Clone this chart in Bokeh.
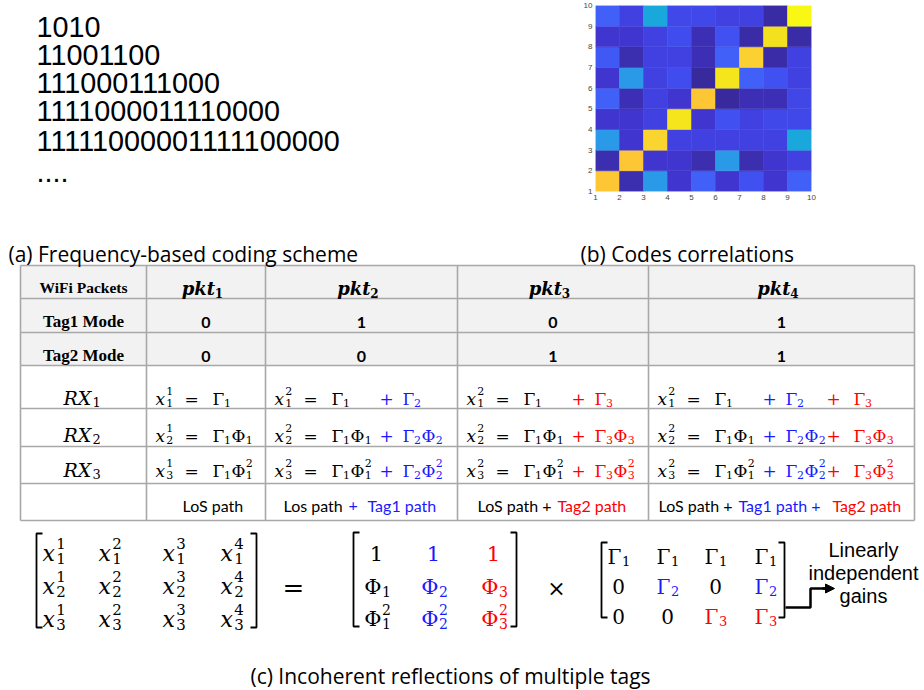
import numpy as np
import pandas as pd
from bokeh.plotting import figure
from bokeh.models import Range1d, ColumnDataSource, LinearColorMapper, FixedTicker, Arrow, NormalHead
from bokeh.layouts import column, row
from bokeh.transform import transform
from bokeh.core.properties import value
from bokeh.embed import file_html
from bokeh.resources import INLINE

# ---------------- data ----------------
CODES = ["1010", "11001100", "111000111000", "1111000011110000",
         "11111000001111100000", "...."]

# code correlation matrix (rows: y=1..2 bottom -> y=9..10 top ; cols: x=1..2 -> 9..10)
CORR = [
    [0.88, 0.06, 0.40, 0.10, 0.22, 0.10, 0.18, 0.10, 0.22],
    [0.06, 0.88, 0.10, 0.10, 0.06, 0.40, 0.06, 0.10, 0.13],
    [0.40, 0.10, 0.91, 0.13, 0.13, 0.13, 0.13, 0.13, 0.45],
    [0.10, 0.10, 0.13, 0.96, 0.10, 0.18, 0.13, 0.16, 0.16],
    [0.22, 0.07, 0.13, 0.10, 0.88, 0.03, 0.07, 0.07, 0.15],
    [0.10, 0.40, 0.13, 0.17, 0.03, 0.96, 0.22, 0.18, 0.13],
    [0.20, 0.06, 0.13, 0.13, 0.07, 0.22, 0.90, 0.05, 0.13],
    [0.10, 0.10, 0.13, 0.17, 0.07, 0.18, 0.05, 0.95, 0.05],
    [0.22, 0.13, 0.45, 0.16, 0.16, 0.13, 0.13, 0.04, 1.00],
]
HEAT_TICKS = [1, 2, 3, 4, 5, 6, 7, 8, 9, 10]

PKT_IDX = ["1", "2", "3", "4"]
TAG1_MODE = [0, 1, 0, 1]
TAG2_MODE = [0, 0, 1, 1]
X_SUP = ["1", "2", "2", "2"]          # superscripts as printed in the table
RX_IDX = ["1", "2", "3"]
PHI_POW = [None, None, "2"]
ROW_HEADERS = ["WiFi Packets", "Tag1 Mode", "Tag2 Mode"]
PATH_SEGMENTS = [
    [("LoS path", "k")],
    [("Los path", "k"), ("+", "b"), ("Tag1 path", "b")],
    [("LoS path +", "k"), ("Tag2 path", "r")],
    [("LoS path +", "k"), ("Tag1 path +", "b"), ("Tag2 path", "r")],
]
CAPTIONS = ["(a) Frequency-based coding scheme", "(b) Codes correlations",
            "(c) Incoherent reflections of multiple tags"]
GAIN_NOTE = ["Linearly", "independent", "gains"]

# ---------------- style / layout ----------------
BLACK, BLUE, RED = "#000000", "#1a1aff", "#ff0000"
CMAP = {"k": BLACK, "b": BLUE, "r": RED}
MATH = "DejaVu Serif"
CAP_FONT = "Open Sans"

LINE_BASE = [25, 57, 90, 122, 157, 193]
COL_EDGES = [20, 146, 265, 457, 648, 914]
ROW_EDGES = [265, 298, 332, 365, 408, 446, 483, 520]
COL_CENTERS = [(a + b) / 2 for a, b in zip(COL_EDGES[:-1], COL_EDGES[1:])]
PATH_X = [[36], [18, 83, 102], [20, 100], [10, 90, 184]]
EQ_BASE = [398, 435, 470]
TERM_SLOTS = [(114, 137), (178, 205)]

W = {"x": 0.60, "Γ": 0.64, "Φ": 0.82, "R": 0.77, "X": 0.73,
     "p": 0.71, "k": 0.66, "t": 0.44}


def wid(s, size):
    return sum(W.get(c, 0.636) for c in s) * size


class Texts:
    def __init__(self):
        self.rows = []

    def add(self, x, y, text, size, color=BLACK, font=MATH, style="normal", align="left"):
        self.rows.append(dict(x=x, y=y, text=text, size=f"{size}px", color=color,
                              font=font, style=style, align=align))

    def render(self, p):
        src = ColumnDataSource(pd.DataFrame(self.rows))
        p.text(x="x", y="y", text="text", source=src, text_font="font",
               text_font_size="size", text_color="color", text_font_style="style",
               text_align="align", text_baseline="alphabetic")


def sym(tb, x, y, base, size, color, sub=None, sup=None, style="normal"):
    tb.add(x, y, base, size, color, style=style)
    bx = x + wid(base, size) + 0.5
    ss = round(size * 0.66)
    n = 0
    if sub:
        tb.add(bx, y + size * 0.24, sub, ss, color)
        n = len(sub)
    if sup:
        tb.add(bx, y - size * 0.45, sup, ss, color)
        n = max(n, len(sup))
    return bx + n * 0.636 * ss


def sym_right(tb, xr, y, base, size, color, sub=None, sup=None):
    tb.add(xr, y, base, size, color, align="right")
    ss = round(size * 0.66)
    if sub:
        tb.add(xr + 0.5, y + size * 0.24, sub, ss, color)
    if sup:
        tb.add(xr + 0.5, y - size * 0.45, sup, ss, color)


def blank(p):
    p.outline_line_color = None
    p.min_border = 0
    p.background_fill_color = None
    return p


# ---------------- (a) codes ----------------
fig_text = blank(figure(width=580, height=215, x_range=Range1d(0, 580), y_range=Range1d(215, 0),
                        x_axis_type=None, y_axis_type=None, toolbar_location=None,
                        output_backend="svg"))
tb_a = Texts()
for i, c in enumerate(CODES):
    tb_a.add(36, LINE_BASE[i], c, 28.8, BLACK, font="Liberation Sans")
tb_a.render(fig_text)

# ---------------- (b) heatmap ----------------
anchors = [(0.0, "#36278f"), (0.05, "#3a2ca8"), (0.10, "#4035d0"), (0.13, "#4140e0"),
           (0.17, "#414cee"), (0.22, "#4060f8"), (0.30, "#3a7cf2"), (0.40, "#2a9ae8"),
           (0.45, "#1aa8dc"), (0.55, "#17bcbc"), (0.65, "#48c88c"), (0.75, "#a8c455"),
           (0.85, "#f0bc3c"), (0.88, "#fcc535"), (0.91, "#fad530"), (0.95, "#f3e020"),
           (1.0, "#f8f814")]
av = np.array([a[0] for a in anchors])
ac = np.array([[int(a[1][i:i + 2], 16) for i in (1, 3, 5)] for a in anchors], float)
grid = np.linspace(0, 1, 256)
palette = ["#%02x%02x%02x" % tuple(int(round(np.interp(g, av, ac[:, j]))) for j in range(3))
           for g in grid]
mapper = LinearColorMapper(palette=palette, low=0, high=1)

corr = np.array(CORR)
ny, nx = corr.shape
xs, ys, vs = [], [], []
for r in range(ny):
    for c in range(nx):
        xs.append(HEAT_TICKS[c] + 0.5)
        ys.append(HEAT_TICKS[r] + 0.5)
        vs.append(corr[r, c])
hsrc = ColumnDataSource(dict(x=xs, y=ys, v=vs))

fig_heat = figure(width=344, height=215, x_range=Range1d(1, 10), y_range=Range1d(1, 10),
                  toolbar_location=None, output_backend="svg",
                  min_border_left=14, min_border_right=113, min_border_top=5,
                  min_border_bottom=24)
fig_heat.outline_line_color = None
fig_heat.grid.visible = False
fig_heat.rect(x="x", y="y", width=1, height=1, source=hsrc,
              fill_color=transform("v", mapper), line_color=transform("v", mapper),
              line_width=0.5)
for ax in (fig_heat.xaxis[0], fig_heat.yaxis[0]):
    ax.ticker = FixedTicker(ticks=HEAT_TICKS)
    ax.axis_line_color = None
    ax.major_tick_line_color = None
    ax.minor_tick_line_color = None
    ax.major_tick_out = 0
    ax.major_tick_in = 0
    ax.major_label_standoff = 3
    ax.major_label_text_font = "Liberation Sans"
    ax.major_label_text_font_size = "8px"
    ax.major_label_text_color = "#444444"

# ---------------- main: captions, table, matrices ----------------
p = blank(figure(width=924, height=474, x_range=Range1d(0, 924), y_range=Range1d(689, 215),
                 x_axis_type=None, y_axis_type=None, toolbar_location=None,
                 output_backend="svg"))
tb = Texts()

tb.add(8, 253, CAPTIONS[0], 21, font=CAP_FONT)
tb.add(580, 253, CAPTIONS[1], 21, font=CAP_FONT)
tb.add(450, 675, CAPTIONS[2], 21, font=CAP_FONT, align="center")

# table background + grid
p.quad(left=[COL_EDGES[0]], right=[COL_EDGES[-1]], top=[ROW_EDGES[0]], bottom=[ROW_EDGES[3]],
       fill_color="#f2f2f2", line_color=None)
p.segment(x0=[COL_EDGES[0]] * len(ROW_EDGES), x1=[COL_EDGES[-1]] * len(ROW_EDGES),
          y0=ROW_EDGES, y1=ROW_EDGES, line_color="#a8a8a8", line_width=1.6)
p.segment(x0=COL_EDGES, x1=COL_EDGES, y0=[ROW_EDGES[0]] * len(COL_EDGES),
          y1=[ROW_EDGES[-1]] * len(COL_EDGES), line_color="#a8a8a8", line_width=1.6)

# header column
HEAD_BASE = [287, 321, 355]
HEAD_SIZE = [15.5, 17, 17]
for i, h in enumerate(ROW_HEADERS):
    tb.add(COL_CENTERS[0], HEAD_BASE[i], h, HEAD_SIZE[i], font="Liberation Serif",
           style="bold", align="center")
# pkt headers
for k, idx in enumerate(PKT_IDX):
    cx = COL_CENTERS[k + 1] - 4
    wp = wid("pkt", 18)
    x0 = cx - (wp + 8) / 2
    tb.add(x0, 288, "pkt", 18, style="bold italic")
    tb.add(x0 + wp + 0.5, 292, idx, 12, style="bold")
# tag modes
for k in range(4):
    tb.add(COL_CENTERS[k + 1], 322, str(TAG1_MODE[k]), 16, font="Lato", style="bold", align="center")
    tb.add(COL_CENTERS[k + 1], 356, str(TAG2_MODE[k]), 16, font="Lato", style="bold", align="center")
# RX labels
for r, idx in enumerate(RX_IDX):
    x0 = COL_CENTERS[0] - 20
    sym(tb, x0, EQ_BASE[r] - 1, "RX", 19, BLACK, sub=idx, style="italic")

# equations
for k in range(4):
    left = COL_EDGES[k + 1]
    terms = [(1, BLACK)]
    if TAG1_MODE[k]:
        terms.append((2, BLUE))
    if TAG2_MODE[k]:
        terms.append((3, RED))
    for r in range(3):
        y = EQ_BASE[r]
        sym(tb, left + 9, y, "x", 17, BLACK, sub=RX_IDX[r], sup=X_SUP[k], style="italic")
        tb.add(left + 38, y, "=", 17)
        for j, (t, col) in enumerate(terms):
            if j == 0:
                xs0 = left + 66
            else:
                px, tx = TERM_SLOTS[j - 1]
                tb.add(left + px, y, "+", 17, col)
                xs0 = left + tx
            xe = sym(tb, xs0, y, "Γ", 17, col, sub=str(t))
            if r > 0:
                sym(tb, xe + 0.5, y, "Φ", 17, col, sub=str(t), sup=PHI_POW[r])

# path labels
for k, segs in enumerate(PATH_SEGMENTS):
    left = COL_EDGES[k + 1]
    for (txt, c), dx in zip(segs, PATH_X[k]):
        tb.add(left + dx, 505, txt, 16, CMAP[c], font="Lato")


# matrices
def bracket(xl, xr, top, bot, tick=6):
    p.multi_line(xs=[[xl + tick, xl, xl, xl + tick], [xr - tick, xr, xr, xr - tick]],
                 ys=[[top, top, bot, bot], [top, top, bot, bot]],
                 line_color=BLACK, line_width=1.8)


bracket(36, 256, 533, 627)
bracket(353, 516, 532, 626)
bracket(601, 784, 542, 617)

M_ROWY = [553, 586, 619]
M1_COLX = [42, 98, 162, 220]
for r in range(3):
    for c in range(4):
        sym(tb, M1_COLX[c], M_ROWY[r], "x", 22, BLACK, sub=RX_IDX[r], sup=PKT_IDX[c],
            style="italic")

tb.add(293, 587, "=", 26, align="center")

M2_CX = [376, 433, 493]
M2_COL = [BLACK, BLUE, RED]
for t in range(3):
    cx = M2_CX[t]
    tb.add(cx, 553, "1", 21, M2_COL[t], align="center")
    sym_right(tb, cx + 5, 586, "Φ", 21, M2_COL[t], sub=str(t + 1))
    sym_right(tb, cx + 5, 618, "Φ", 21, M2_COL[t], sub=str(t + 1), sup="2")

tb.add(556, 588, "×", 22, align="center")

M3_CX = [618, 667, 715, 765]
M3_ROWY = [556, 586, 616]
for k in range(4):
    cx = M3_CX[k]
    entries = [(1, BLACK, 1), (2, BLUE, TAG1_MODE[k]), (3, RED, TAG2_MODE[k])]
    for r, (t, col, on) in enumerate(entries):
        if on:
            sym_right(tb, cx + 3, M3_ROWY[r], "Γ", 20, col, sub=str(t))
        else:
            tb.add(cx, M3_ROWY[r], "0", 20, BLACK, align="center")

# arrow to the note
p.line(x=[785, 810, 810, 826], y=[607, 607, 588, 588], line_color=BLACK, line_width=2.5)
p.add_layout(Arrow(end=NormalHead(size=9, fill_color=BLACK, line_color=BLACK),
                   x_start=822, y_start=588, x_end=834, y_end=588,
                   line_color=BLACK, line_width=2.5))
for i, t in enumerate(GAIN_NOTE):
    tb.add(863, 549 + 23 * i, t, 20, font="Liberation Sans", align="center")

tb.render(p)

layout = column(row(fig_text, fig_heat), p)
open("out.html", "w").write(file_html(layout, INLINE))
